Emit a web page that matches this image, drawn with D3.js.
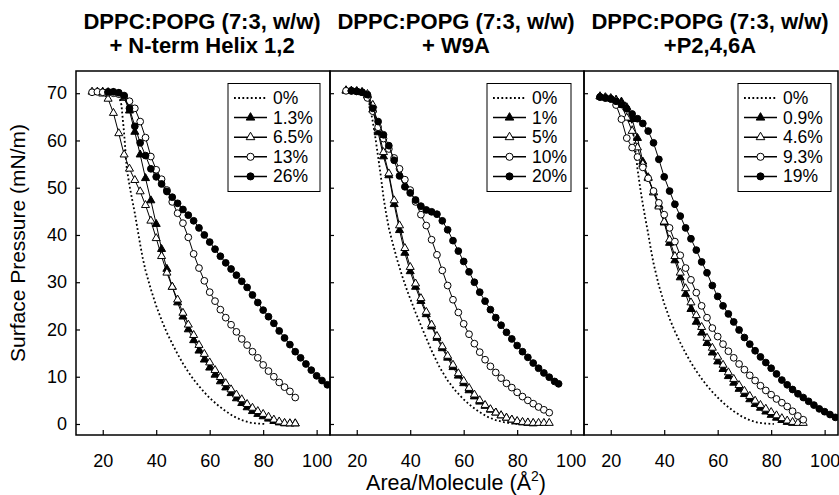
<!DOCTYPE html>
<html><head><meta charset="utf-8">
<script src="https://cdn.jsdelivr.net/npm/d3@7"></script>
<style>
body{margin:0;background:#fff}
svg{display:block}
text{font-family:"Liberation Sans",Arial,Helvetica,sans-serif;fill:#000}
</style>
</head><body>
<svg id="chart" width="839" height="495"></svg>
<script>
// ---------- DATA (Area Å², Surface pressure mN/m) ----------
const xTicks = [20, 40, 60, 80, 100];
const yTicks = [0, 10, 20, 30, 40, 50, 60, 70];

const titles1 = ["DPPC:POPG (7:3, w/w)", "+ N-term Helix 1,2"];
const titles2 = ["DPPC:POPG (7:3, w/w)", "+ W9A"];
const titles3 = ["DPPC:POPG (7:3, w/w)", "+P2,4,6A"];

const legend1 = ["0%", "1.3%", "6.5%", "13%", "26%"];
const legend2 = ["0%", "1%", "5%", "10%", "20%"];
const legend3 = ["0%", "0.9%", "4.6%", "9.3%", "19%"];

// Panel 1: + N-term Helix 1,2
const p1_0 = [[15,70.3],[18,70.3],[21,70.2],[24,70],[26,69.4],[27,67.5],[28,61.5],[29,54],[30,50.5],[31,47.5],[32,44.6],[33,41.3],[34,38],[35,35],[36,32.5],[38,28.5],[40,25],[42,22],[44,19.3],[46,17],[48,14.8],[50,12.8],[52,11],[54,9.4],[56,8],[58,6.7],[60,5.5],[63,4],[66,2.7],[69,1.6],[72,0.8],[75,0.3],[78,0.1],[81,0]];
const p1_1 = [[18,70.3],[20,70.3],[22,70.2],[24,70.1],[26,69.9],[28,69],[30,66.3],[32,61.8],[34,57],[36,52],[38,47.3],[40,42.3],[42,37],[44,32.8],[46,29],[48,25.7],[50,22.7],[52,20],[54,17.7],[56,15.5],[58,13.6],[60,11.9],[62,10.4],[64,9],[66,7.7],[68,6.5],[70,5.4],[72,4.4],[74,3.5],[76,2.7],[78,2.1],[80,1.6],[82,1.1],[84,0.6],[86,0.3],[88,0.1],[90,0.1],[92,0.1]];
const p1_2 = [[16,70.3],[18,70.2],[20,69.9],[22,68.8],[24,65.8],[26,61.5],[28,57],[30,54],[32,51.6],[34,49.2],[36,46.3],[38,43],[40,39.3],[42,35.5],[44,32],[46,29],[48,26.3],[50,23.5],[52,21],[54,18.8],[56,16.7],[58,14.8],[60,13],[62,11.4],[64,9.9],[66,8.6],[68,7.3],[70,6.2],[72,5.2],[74,4.2],[76,3.4],[78,2.7],[80,2.1],[82,1.5],[84,0.9],[86,0.5],[88,0.2],[90,0.1],[92,0.1]];
const p1_3 = [[16,70.2],[18,70.3],[20,70.2],[22,70.1],[24,70],[26,69.8],[28,69.3],[30,68.3],[32,66.8],[34,64],[36,60.6],[38,56.6],[40,53.8],[42,51.8],[44,49.5],[46,47],[48,44.6],[50,42.5],[52,39.5],[54,36],[56,33],[58,30.3],[60,27.9],[62,26],[64,24.2],[66,22.5],[68,21],[70,19.5],[72,18],[74,16.7],[76,15.3],[78,14],[80,12.5],[82,11.2],[84,10],[86,8.8],[88,7.8],[90,6.9],[92,5.6]];
const p1_4 = [[22,70.3],[24,70.3],[26,70.1],[28,69.5],[30,66.8],[32,63],[34,59.5],[36,56.8],[38,54],[40,52.3],[42,50.8],[44,49.2],[46,48],[48,46.7],[50,45.4],[52,44.2],[54,43],[56,41.5],[58,40],[60,38.5],[62,37],[64,35.5],[66,34.1],[68,32.8],[70,31.5],[72,30.2],[74,28.9],[76,27.3],[78,25.7],[80,24.1],[82,22.7],[84,21.3],[86,19.7],[88,18.2],[90,16.8],[92,15.3],[94,14],[96,12.7],[98,11.4],[100,10.2],[102,9.2],[104,8.3]];

// Panel 2: + W9A
const p2_0 = [[15,70.5],[18,70.5],[21,70.4],[23,70.2],[24,69.5],[25,67],[26,64],[27,60.5],[28,56.5],[29,52.5],[30,48],[31,44.5],[32,41.5],[33,39.2],[35,35],[37,31.3],[39,28],[42,23.6],[45,19.5],[48,15.5],[51,12],[54,9.2],[57,7],[60,5.2],[63,3.7],[66,2.5],[69,1.5],[72,0.8],[75,0.4],[78,0.1],[81,0]];
const p2_1 = [[16,70.5],[18,70.5],[20,70.4],[22,70.2],[24,69.5],[26,66.5],[28,61.7],[30,56.6],[32,52.6],[34,46.5],[36,41],[38,36.2],[40,32.3],[42,29],[44,26],[46,23.2],[48,20.6],[50,18.2],[52,16],[54,14],[56,12],[58,10.2],[60,8.6],[62,7.1],[64,5.8],[66,4.7],[68,3.8],[70,3],[72,2.4],[74,1.8],[76,1.3],[78,0.9],[80,0.5],[82,0.3],[84,0.2],[86,0.1]];
const p2_2 = [[16,70.6],[18,70.5],[20,70.4],[22,70.2],[24,69.8],[26,67.5],[28,62.5],[30,57.5],[32,53],[34,47.3],[36,42],[38,37.2],[40,33.2],[42,29.7],[44,26.6],[46,23.7],[48,21],[50,18.6],[52,16.4],[54,14.4],[56,12.5],[58,10.7],[60,9.1],[62,7.6],[64,6.2],[66,5],[68,4],[70,3.1],[72,2.4],[74,1.8],[76,1.3],[78,0.9],[80,0.6],[82,0.4],[84,0.3],[86,0.2],[88,0.2],[90,0.2],[92,0.2]];
const p2_3 = [[16,70.5],[18,70.5],[20,70.4],[22,70.2],[24,69],[26,66.2],[28,62.8],[30,60.4],[32,58.2],[34,56.3],[36,54],[38,51.7],[40,49.5],[42,47],[44,44.3],[46,42],[48,39],[50,35.8],[52,32.5],[54,29.3],[56,26.3],[58,23.6],[60,21.2],[62,19],[64,17],[66,15.2],[68,13.6],[70,12.2],[72,10.9],[74,9.7],[76,8.6],[78,7.7],[80,6.7],[82,5.8],[84,5],[86,4.3],[88,3.6],[90,3],[92,2.4]];
const p2_4 = [[18,70.5],[20,70.4],[22,70.2],[24,69.7],[26,66.8],[28,64],[30,61.2],[32,58.9],[34,55.8],[36,52.5],[38,50.2],[40,48.9],[42,47.4],[44,46.1],[46,45.3],[48,44.9],[50,44.4],[52,43],[54,41.1],[56,38.8],[58,36.6],[60,34.4],[62,32.2],[64,30],[66,27.9],[68,26],[70,24.2],[72,22.5],[74,20.9],[76,19.4],[78,18],[80,16.6],[82,15.3],[84,14.1],[86,12.9],[88,11.8],[90,10.8],[92,9.9],[94,9],[95.5,8.5]];

// Panel 3: + P2,4,6A
const p3_0 = [[16,69.1],[20,68.9],[23,68.6],[25,68.2],[26,67.6],[27,66.3],[28,63.5],[29,59],[30,54],[31,50],[32,46.5],[33,43.3],[34,40.3],[35,37],[36,34],[38,29.3],[40,25.5],[42,22.3],[44,19.6],[46,17.2],[48,15],[50,13],[52,11.2],[54,9.6],[56,8.1],[58,6.8],[60,5.6],[63,4],[66,2.7],[69,1.6],[72,0.8],[75,0.3],[78,0.1],[81,0]];
const p3_1 = [[16,69.3],[18,69.1],[20,68.9],[22,68.6],[24,68.2],[26,67],[28,64.5],[30,60.5],[32,55.5],[34,52.2],[36,49],[38,46.3],[40,42.6],[42,38.3],[44,34.6],[46,31],[48,27.5],[50,24.3],[52,21.6],[54,19.3],[56,17.1],[58,15.1],[60,13.2],[62,11.6],[64,10.1],[66,8.7],[68,7.4],[70,6.3],[72,5.2],[74,4.2],[76,3.4],[78,2.6],[80,1.9],[82,1.3],[84,0.8],[86,0.4],[88,0.2]];
const p3_2 = [[16,69.3],[18,69.1],[20,68.9],[22,68.5],[24,67.5],[26,64.8],[28,62],[30,58.5],[32,55],[34,52],[36,49],[38,46],[40,42.8],[42,39],[44,35.5],[46,32],[48,28.7],[50,25.7],[52,23],[54,20.5],[56,18.2],[58,16.1],[60,14.2],[62,12.5],[64,10.9],[66,9.5],[68,8.2],[70,7],[72,5.9],[74,4.9],[76,4],[78,3.2],[80,2.5],[82,1.8],[84,1.2],[86,0.7],[88,0.4],[90,0.2],[92,0.2]];
const p3_3 = [[16,69.2],[18,69],[20,68.8],[22,67.5],[24,64.5],[26,60.5],[28,58.5],[30,56.5],[32,54.3],[34,52],[36,49.3],[38,46.8],[40,44.3],[42,41.5],[44,38.6],[46,35.7],[48,33],[50,30.5],[52,27.8],[54,25],[56,22.5],[58,20.3],[60,18.5],[62,16.9],[64,15.4],[66,14],[68,12.7],[70,11.5],[72,10.3],[74,9.2],[76,8.1],[78,7.1],[80,6.2],[82,5.3],[84,4.5],[86,3.7],[88,2.7],[90,1.7],[92,0.9]];
const p3_4 = [[16,69.2],[18,69],[20,68.8],[22,68.3],[24,67.6],[26,66.7],[28,65.6],[30,64.6],[32,63.6],[34,62],[36,59.5],[38,56],[40,52.3],[42,49.3],[44,46.5],[46,44],[48,41.5],[50,39.2],[52,36.8],[54,34.3],[56,32],[58,29.3],[60,27],[62,25],[64,23.3],[66,21.6],[68,19.9],[70,18.3],[72,16.9],[74,15.5],[76,14.2],[78,13],[80,11.8],[82,10.6],[84,9.3],[86,8.3],[88,7.3],[90,6.4],[92,5.6],[94,4.8],[96,4],[98,3.2],[100,2.6],[102,2],[104,1.4]];

// ---------- LAYOUT ----------
const svg = d3.select("#chart");
const plotTop = 71, plotBottom = 435, left0 = 76, panelW = 254;
const xDomain = [10, 105], yDomain = [-2.33, 74.7];
const y = d3.scaleLinear().domain(yDomain).range([plotBottom, plotTop]);

const panels = [
  {titles: titles1, legend: legend1, series: [p1_0, p1_1, p1_2, p1_3, p1_4], lg: {x: 228, w: 92}},
  {titles: titles2, legend: legend2, series: [p2_0, p2_1, p2_2, p2_3, p2_4], lg: {x: 487, w: 84}},
  {titles: titles3, legend: legend3, series: [p3_0, p3_1, p3_2, p3_3, p3_4], lg: {x: 738, w: 93}}
];

// series styles: 0 dotted, 1 filled tri, 2 open tri, 3 open circle, 4 filled circle
const styles = [
  {dotted: true},
  {sym: d3.symbolTriangle, size: 28, fill: "#000"},
  {sym: d3.symbolTriangle, size: 28, fill: "#fff"},
  {sym: d3.symbolCircle, size: 36, fill: "#fff"},
  {sym: d3.symbolCircle, size: 36, fill: "#000"}
];

const defs = svg.append("defs");

panels.forEach((p, i) => {
  const x0 = left0 + i * panelW;
  const x = d3.scaleLinear().domain(xDomain).range([x0, x0 + panelW]);
  const g = svg.append("g");

  defs.append("clipPath").attr("id", "clip" + i)
    .append("rect").attr("x", x0).attr("y", plotTop).attr("width", panelW).attr("height", plotBottom - plotTop);

  // titles
  p.titles.forEach((t, k) => {
    g.append("text").attr("x", x0 + panelW / 2 - 1).attr("y", k === 0 ? 28.5 : 52.5)
      .attr("text-anchor", "middle").attr("font-size", 22).attr("font-weight", "bold").text(t);
  });

  // x axis (ticks inward)
  const xa = g.append("g").attr("transform", `translate(0,${plotBottom})`)
    .call(d3.axisBottom(x).tickValues(xTicks).tickSize(-5).tickPadding(19).tickFormat(d3.format("d")));
  xa.select(".domain").remove();
  xa.selectAll("line").attr("stroke", "#000").attr("stroke-width", 1.2);
  xa.selectAll("text").attr("font-size", 18).attr("font-family", "Liberation Sans, Arial, sans-serif");

  // y axis (ticks inward)
  const ya = g.append("g").attr("transform", `translate(${x0},0)`)
    .call(d3.axisLeft(y).tickValues(yTicks).tickSize(-4).tickPadding(9)
      .tickFormat(i === 0 ? d3.format("d") : () => ""));
  ya.select(".domain").remove();
  ya.selectAll("line").attr("stroke", "#000").attr("stroke-width", 1.2);
  ya.selectAll("text").attr("font-size", 18).attr("font-family", "Liberation Sans, Arial, sans-serif");

  // data
  const dg = g.append("g").attr("clip-path", `url(#clip${i})`);
  const line = d3.line().x(d => x(d[0])).y(d => y(d[1]));
  p.series.forEach((s, k) => {
    const st = styles[k];
    if (st.dotted) {
      dg.append("path").datum(s).attr("d", line).attr("fill", "none")
        .attr("stroke", "#000").attr("stroke-width", 1.8).attr("stroke-dasharray", "1.8,2.4");
    } else {
      dg.append("path").datum(s).attr("d", line).attr("fill", "none")
        .attr("stroke", "#000").attr("stroke-width", 1);
      dg.selectAll(null).data(s).enter().append("path")
        .attr("d", d3.symbol().type(st.sym).size(st.size))
        .attr("transform", d => `translate(${x(d[0])},${y(d[1])})`)
        .attr("fill", st.fill).attr("stroke", "#000").attr("stroke-width", 1);
    }
  });

  // legend
  const lg = g.append("g");
  const top = 83.5, h = 108;
  lg.append("rect").attr("x", p.lg.x).attr("y", top).attr("width", p.lg.w).attr("height", h)
    .attr("fill", "#fff").attr("stroke", "#000").attr("stroke-width", 1);
  p.legend.forEach((lab, k) => {
    const cy = top + 14.5 + k * 19.6;
    const lx1 = p.lg.x + 6, lx2 = p.lg.x + 39;
    const st = styles[k];
    if (st.dotted) {
      lg.append("line").attr("x1", lx1).attr("x2", lx2).attr("y1", cy).attr("y2", cy)
        .attr("stroke", "#000").attr("stroke-width", 1.8).attr("stroke-dasharray", "1.8,2.4");
    } else {
      lg.append("line").attr("x1", lx1).attr("x2", lx2).attr("y1", cy).attr("y2", cy)
        .attr("stroke", "#000").attr("stroke-width", 1.5);
      lg.append("path").attr("d", d3.symbol().type(st.sym).size(st.size + 4))
        .attr("transform", `translate(${(lx1 + lx2) / 2},${cy})`)
        .attr("fill", st.fill).attr("stroke", "#000").attr("stroke-width", 1);
    }
    lg.append("text").attr("x", p.lg.x + 45).attr("y", cy + 6).attr("font-size", 17.5).text(lab);
  });

  // frame
  g.append("rect").attr("x", x0).attr("y", plotTop).attr("width", panelW).attr("height", plotBottom - plotTop)
    .attr("fill", "none").attr("stroke", "#000").attr("stroke-width", 1.5);
});

// axis titles
const xl = svg.append("text").attr("x", 456).attr("y", 490).attr("text-anchor", "middle").attr("font-size", 21.5);
xl.append("tspan").text("Area/Molecule (Å");
xl.append("tspan").attr("font-size", 14).attr("dy", -9).text("2");
xl.append("tspan").attr("dy", 9).text(")");

svg.append("text").attr("transform", "translate(25,243) rotate(-90)")
  .attr("text-anchor", "middle").attr("font-size", 21).text("Surface Pressure (mN/m)");
</script>
</body></html>
